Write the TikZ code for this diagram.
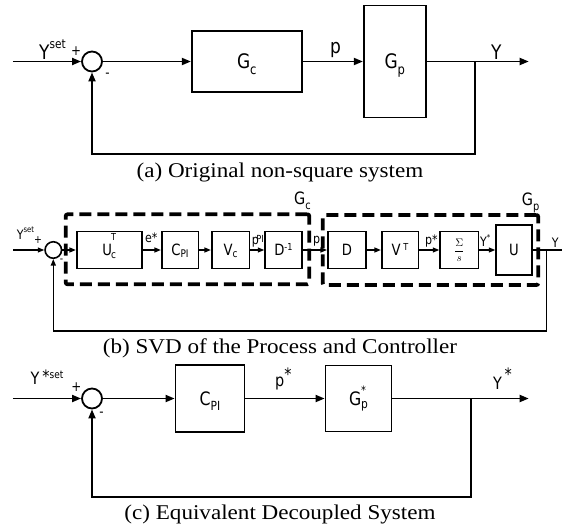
\documentclass[tikz,border=0pt]{standalone}
\usepackage{fontspec}
\usepackage{graphicx}
\usetikzlibrary{arrows.meta}
\newfontfamily\labfont{DejaVu Sans}[FakeStretch=0.85]
\newfontfamily\capfont{Liberation Serif}[FakeStretch=1.1]
\newcommand\fsz[1]{\fontsize{#1}{#1}\selectfont}
\newcommand\supt[2][0.55em]{\raisebox{#1}[0pt][0pt]{\scalebox{0.62}{#2}}}
\newcommand\subt[2][-0.3em]{\raisebox{#1}[0pt][0pt]{\scalebox{0.68}{#2}}}
\begin{document}
\begin{tikzpicture}[x=1pt,y=-1pt,
  labA/.style={inner sep=0pt, font=\labfont\fsz{20}},
  labB/.style={inner sep=0pt, font=\labfont\fsz{13}},
  labG/.style={inner sep=0pt, font=\labfont\fsz{17}},
  labC/.style={inner sep=0pt, font=\labfont\fsz{17}},
  sgnA/.style={inner sep=0pt, font=\labfont\fsz{14}},
  sgnB/.style={inner sep=0pt, font=\labfont\fsz{11}},
  blkA/.style={draw, line width=1.8pt, inner sep=0pt, font=\labfont\fsz{20}},
  blkC/.style={draw, line width=1.8pt, inner sep=0pt, font=\labfont\fsz{18.5}},
  blkB/.style={draw, line width=1.6pt, inner sep=0pt, minimum height=37pt, font=\labfont\fsz{15.5}},
  sumA/.style={draw, circle, line width=1.8pt, minimum size=20pt, inner sep=0pt},
  sumB/.style={draw, circle, line width=1.6pt, minimum size=16.5pt, inner sep=0pt},
  arrA/.style={line width=1.8pt, -{Triangle[length=9pt,width=7pt]}},
  arrB/.style={line width=1.3pt, -{Triangle[length=6.5pt,width=5pt]}},
  lineB/.style={line width=1.3pt},
  dbox/.style={draw, line width=3.8pt, dash pattern=on 12pt off 6pt, rounded corners=2pt, inner sep=0pt},
  capt/.style={inner sep=0pt, font=\capfont\fsz{21}},
]
\useasboundingbox (0,0) rectangle (562,527);

% ---------------- (a) ----------------
\coordinate (a_in) at (12.9,61.5);
\node[sumA] (s1) at (92,61.5) {};
\node[blkA, minimum width=110pt, minimum height=61pt] (gc) at (246.8,61.5) {G\subt{c}};
\node[blkA, minimum width=62pt, minimum height=112pt] (gp) at (394.8,61.5) {G\subt{p}};
\coordinate (a_br) at (475,61.5);
\coordinate (a_out) at (528.7,61.5);
\coordinate (a_fb) at (475,154.2);
\draw[arrA] (a_in) -- (s1.west);
\draw[arrA] (s1.east) -- (gc.west);
\draw[arrA] (gc.east) -- (gp.west);
\draw[arrA] (gp.east) -- (a_out);
\draw[arrA] (a_br) -- (a_fb) -| (s1.south);
\node[labA, anchor=base west] (a_lys) at (39,59.3) {Y\supt{set}};
\node[sgnA] (a_plus) at (76,51) {+};
\node[sgnA] (a_minus) at (107.5,75) {-};
\node[labA, anchor=base west] (a_lp) at (330,53) {p};
\node[labA, anchor=base west] (a_ly) at (491,59.3) {Y};
\node[capt, anchor=base] (capa) at (280,177) {(a) Original non-square system};

% ---------------- (b) ----------------
\coordinate (b_in) at (13,250);
\node[sumB] (s2) at (53.3,250) {};
\node[dbox, minimum width=243.6pt, minimum height=70pt] (gcb) at (187.5,249.3) {};
\node[dbox, minimum width=215.6pt, minimum height=70pt] (gpb) at (430.5,250) {};
\node[blkB, minimum width=65pt] (uct) at (109.2,250) {U\rlap{\kern-1pt\supt[0.95em]{T}}\kern-1pt\subt[-0.2em]{c}};
\node[blkB, minimum width=36.6pt] (cpi) at (180,250) {C\subt[-0.1em]{PI}};
\node[blkB, minimum width=37.6pt] (vc) at (230.5,250) {V\subt[-0.1em]{c}};
\node[blkB, minimum width=36.7pt] (dinv) at (283.4,250) {D\supt[0.35em]{-1}};
\node[blkB, minimum width=38.3pt] (dd) at (346.9,250) {D};
\node[blkB, minimum width=36.6pt] (vt) at (400,250) {V\,\supt[0.33em]{T}};
\node[blkB, minimum width=38.3pt] (sg) at (459.2,250) {\fsz{11}$\displaystyle\frac{\Sigma}{s}$};
\node[blkB, minimum width=35.7pt, minimum height=50pt] (uu) at (513.9,250) {U};
\coordinate (b_out) at (562,250);
\coordinate (b_br) at (546.7,250);
\coordinate (b_fb) at (546.7,331);
\draw[arrB] (b_in) -- (s2.west);
\draw[arrB] (s2.east) -- (uct.west);
\draw[arrB] (uct.east) -- (cpi.west);
\draw[arrB] (cpi.east) -- (vc.west);
\draw[arrB] (vc.east) -- (dinv.west);
\draw[arrB] (dinv.east) -- (dd.west);
\draw[arrB] (dd.east) -- (vt.west);
\draw[arrB] (vt.east) -- (sg.west);
\draw[arrB] (sg.east) -- (uu.west);
\draw[lineB] (uu.east) -- (b_out);
\draw[arrB] (b_br) -- (b_fb) -| (s2.south);
\node[labB, anchor=base west] (b_lys) at (16.7,239.3) {Y\supt{set}};
\node[sgnB] (b_plus) at (38,240.5) {+};
\node[sgnB] (b_minus) at (61.5,261) {-};
\node[labB, anchor=base west] (b_le) at (145,242) {e*};
\node[labB, anchor=base west] (b_lppi) at (251.7,244) {p\kern-2.5pt\raisebox{0.1em}{\scalebox{0.75}{PI}}};
\node[labB, anchor=base west] (b_lp) at (313,243) {p};
\node[labB, anchor=base west] (b_lps) at (425,244) {p*};
\node[labB, anchor=base west] (b_lysr) at (480,246) {Y\supt[0.45em]{*}};
\node[labB, anchor=base west] (b_ly) at (551.7,247.5) {Y};
\node[labG, anchor=base west] (b_lgc) at (294,204) {G\subt{c}};
\node[labG, anchor=base west] (b_lgp) at (521.7,205.5) {G\subt{p}};
\node[capt, anchor=base] (capb) at (280,353) {(b) SVD of the Process and Controller};

% ---------------- (c) ----------------
\coordinate (c_in) at (12.9,398.5);
\node[sumA] (s3) at (92,398.5) {};
\node[blkC, minimum width=69pt, minimum height=67pt] (cpi3) at (210,398.5) {C\subt{PI}};
\node[blkC, minimum width=66pt, minimum height=66pt] (gps) at (358.5,398.5) {G\rlap{\supt[0.6em]{*}}\subt[-0.15em]{p}};
\coordinate (c_br) at (471.3,398.5);
\coordinate (c_out) at (528.7,398.5);
\coordinate (c_fb) at (471.3,497);
\draw[arrA] (c_in) -- (s3.west);
\draw[arrA] (s3.east) -- (cpi3.west);
\draw[arrA] (cpi3.east) -- (gps.west);
\draw[arrA] (gps.east) -- (c_out);
\draw[arrA] (c_br) -- (c_fb) -| (s3.south);
\node[labC, anchor=base west] (c_lys) at (30.5,384) {Y\,\raisebox{0.1em}{*}\supt[0.3em]{set}};
\node[sgnA] (c_plus) at (76.3,387.5) {+};
\node[sgnA] (c_minus) at (101.4,414) {-};
\node[labC, anchor=base west] (c_lps) at (275,386) {p\raisebox{0.3em}{*}};
\node[labC, anchor=base west] (c_lys2) at (492.8,389) {Y\,\raisebox{0.5em}{*}};
\node[capt, anchor=base] (capc) at (280,519) {(c) Equivalent Decoupled System};
\end{tikzpicture}
\end{document}
